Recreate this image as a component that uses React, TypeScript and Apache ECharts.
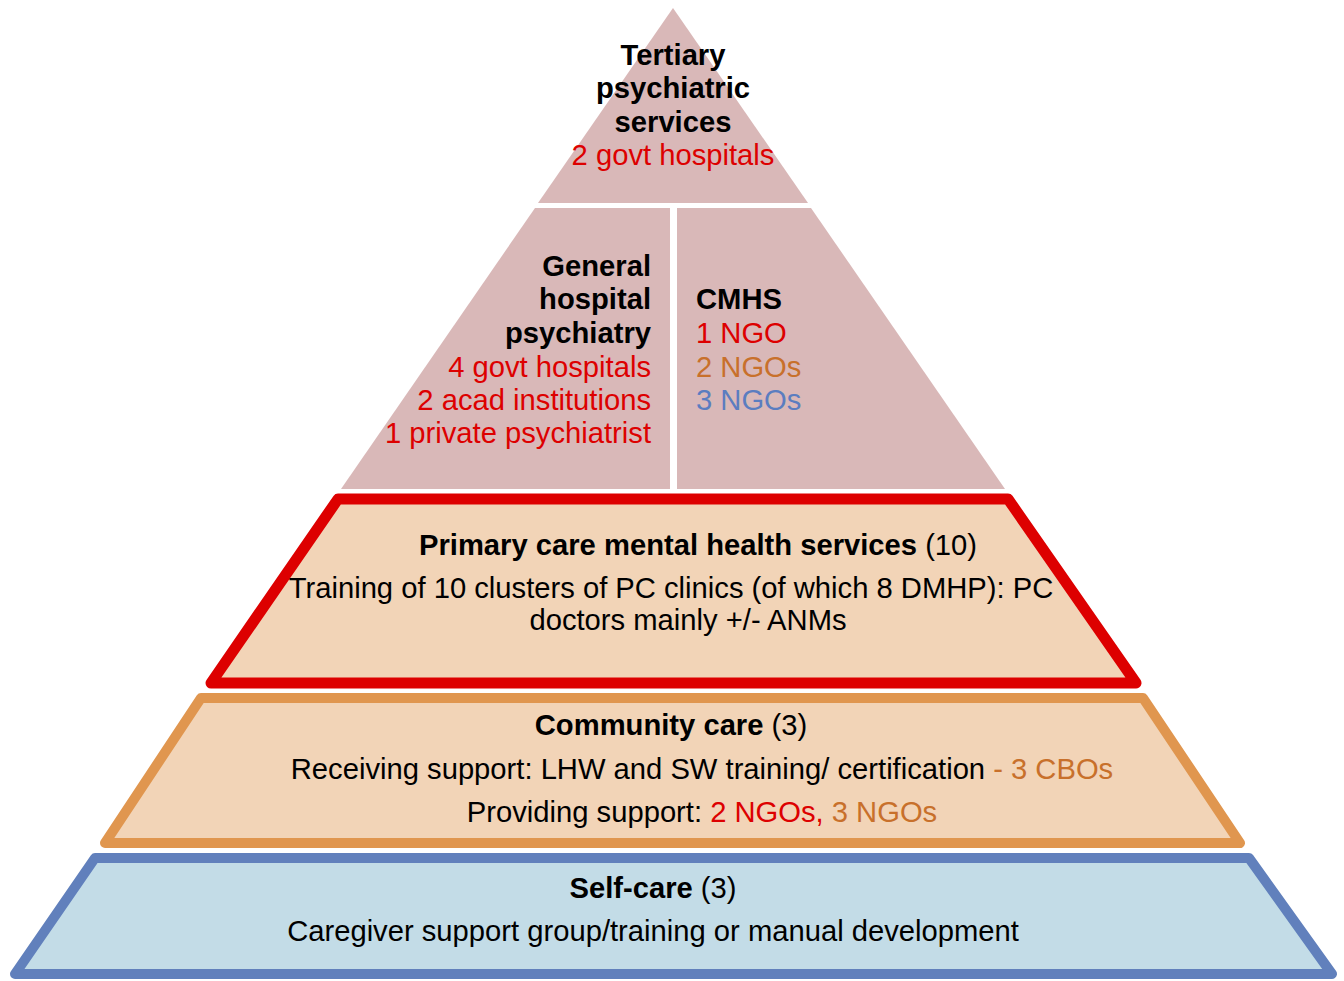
import React, { useEffect, useRef } from "react";
import * as echarts from "echarts";

// ---- Content ----
const tertiaryTitle = ["Tertiary", "psychiatric", "services"];
const tertiaryDetail = ["2 govt hospitals"];
const generalTitle = ["General", "hospital", "psychiatry"];
const generalDetail = ["4 govt hospitals", "2 acad institutions", "1 private psychiatrist"];
const cmhsTitle = ["CMHS"];
const cmhsDetail = ["1 NGO", "2 NGOs", "3 NGOs"];
const cmhsTones = ["red", "orange", "blue"];
const primaryTitle = ["Primary care mental health services", "(10)"];
const primaryLines = ["Training of 10 clusters of PC clinics (of which 8 DMHP): PC", "doctors mainly +/- ANMs"];
const communityTitle = ["Community care", "(3)"];
const communityReceiving = ["Receiving support: LHW and SW training/ certification", " - 3 CBOs"];
const communityProviding = ["Providing support: ", "2 NGOs, ", "3 NGOs"];
const selfTitle = ["Self-care", "(3)"];
const selfLines = ["Caregiver support group/training or manual development"];

const FONT = "'Liberation Sans', Arial, Helvetica, sans-serif";
const FS = 29.2;
const C = {
  red: "#DD0000",
  orange: "#C8702B",
  blue: "#5B7DC0",
  black: "#000000",
  pink: "#D9B8B8",
  peach: "#F2D4B7",
  orangeLine: "#E0964F",
  blueLine: "#6180BC",
  lightBlue: "#C3DCE7",
};

const rich = {
  b: { fontFamily: FONT, fontSize: FS, fontWeight: "bold" as const, fill: C.black },
  n: { fontFamily: FONT, fontSize: FS, fill: C.black },
  r: { fontFamily: FONT, fontSize: FS, fill: C.red },
  o: { fontFamily: FONT, fontSize: FS, fill: C.orange },
  u: { fontFamily: FONT, fontSize: FS, fill: C.blue },
};

function txt(text: string, x: number, y: number, align: string, opts: any = {}) {
  return {
    type: "text",
    x,
    y,
    z: 10,
    style: {
      text,
      fontFamily: FONT,
      fontSize: FS,
      fontWeight: opts.bold ? "bold" : "normal",
      fill: opts.color || C.black,
      align,
      verticalAlign: "middle",
      rich: opts.rich ? rich : undefined,
    },
  };
}

export default function App() {
  const ref = useRef<HTMLDivElement>(null);
  useEffect(() => {
    if (!ref.current) return;
    const chart = echarts.init(ref.current, undefined, { renderer: "svg" });
    const els: any[] = [];

    // shapes
    els.push({ type: "polygon", shape: { points: [[673, 8], [808, 203], [538, 203]] }, style: { fill: C.pink } });
    els.push({ type: "polygon", shape: { points: [[535, 208], [670, 208], [670, 489], [341, 489]] }, style: { fill: C.pink } });
    els.push({ type: "polygon", shape: { points: [[677, 208], [811, 208], [1005, 489], [677, 489]] }, style: { fill: C.pink } });
    els.push({
      type: "polygon",
      shape: { points: [[338, 499], [1008, 499], [1136, 683], [211, 683]] },
      style: { fill: C.peach, stroke: C.red, lineWidth: 11, lineJoin: "round" },
    });
    els.push({
      type: "polygon",
      shape: { points: [[201, 698], [1143, 698], [1240, 843], [105, 843]] },
      style: { fill: C.peach, stroke: C.orangeLine, lineWidth: 10, lineJoin: "round" },
    });
    els.push({
      type: "polygon",
      shape: { points: [[95, 858], [1249, 858], [1332, 974], [15, 974]] },
      style: { fill: C.lightBlue, stroke: C.blueLine, lineWidth: 10, lineJoin: "round" },
    });

    // tertiary
    const ty = [55, 88, 122];
    tertiaryTitle.forEach((t, i) => els.push(txt(t, 673, ty[i], "center", { bold: true })));
    tertiaryDetail.forEach((t, i) => els.push(txt(t, 673, 155 + i * 33, "center", { color: C.red })));

    // general hospital psychiatry
    const gy = [266, 299, 333];
    generalTitle.forEach((t, i) => els.push(txt(t, 651, gy[i], "right", { bold: true })));
    const gdy = [367, 400, 433];
    generalDetail.forEach((t, i) => els.push(txt(t, 651, gdy[i], "right", { color: C.red })));

    // CMHS
    cmhsTitle.forEach((t) => els.push(txt(t, 696, 299, "left", { bold: true })));
    const cdy = [333, 367, 400];
    cmhsDetail.forEach((t, i) =>
      els.push(txt(t, 696, cdy[i], "left", { color: (C as any)[cmhsTones[i]] }))
    );

    // primary care
    els.push(txt(`{b|${primaryTitle[0]}} {n|${primaryTitle[1]}}`, 698, 545, "center", { rich: true }));
    els.push(txt(primaryLines[0], 671, 588, "center"));
    els.push(txt(primaryLines[1], 688, 620, "center"));

    // community care
    els.push(txt(`{b|${communityTitle[0]}} {n|${communityTitle[1]}}`, 671, 725, "center", { rich: true }));
    els.push(txt(`{n|${communityReceiving[0]}}{o|${communityReceiving[1]}}`, 702, 769, "center", { rich: true }));
    els.push(
      txt(`{n|${communityProviding[0]}}{r|${communityProviding[1]}}{o|${communityProviding[2]}}`, 702, 812, "center", {
        rich: true,
      })
    );

    // self-care
    els.push(txt(`{b|${selfTitle[0]}} {n|${selfTitle[1]}}`, 653, 888, "center", { rich: true }));
    els.push(txt(selfLines[0], 653, 931, "center"));

    chart.setOption({ animation: false, backgroundColor: "#ffffff", graphic: { elements: els } });
    return () => chart.dispose();
  }, []);
  return <div ref={ref} style={{ position: "fixed", left: 0, top: 0, width: 1344, height: 981 }} />;
}
